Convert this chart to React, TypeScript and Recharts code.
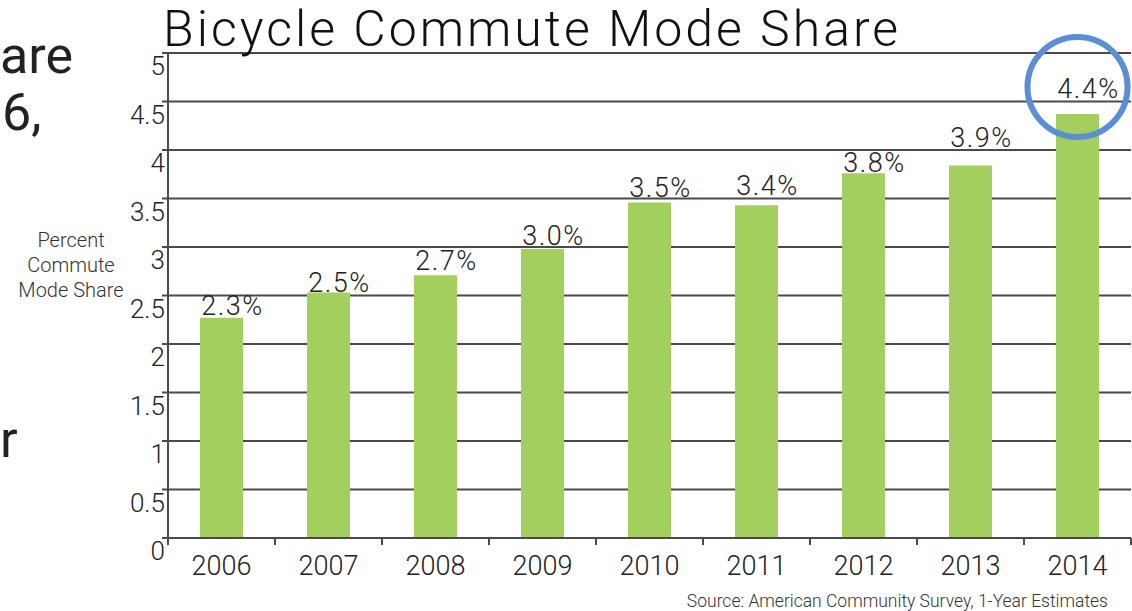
import { BarChart, Bar, XAxis, YAxis, CartesianGrid, LabelList, ReferenceDot } from 'recharts'

const YEARS = ['2006', '2007', '2008', '2009', '2010', '2011', '2012', '2013', '2014']
const SHARE = [2.27, 2.53, 2.71, 2.98, 3.46, 3.43, 3.76, 3.84, 4.37]
const SHARE_LABELS = ['2.3%', '2.5%', '2.7%', '3.0%', '3.5%', '3.4%', '3.8%', '3.9%', '4.4%']
const Y_TICKS = [0, 0.5, 1, 1.5, 2, 2.5, 3, 3.5, 4, 4.5, 5]
const HIGHLIGHT_YEAR = '2014'
const HIGHLIGHT_Y = 4.65

const FONT = 'Roboto, "Noto Sans", sans-serif'
const INK = '#222'
const LINE = '#4a4a4a'
const GREEN = '#a3cf5f'
// the labels in the original were placed by hand, a few px above each bar
const LABEL_LIFT = [3, 1, 5, 4, 5, 10, 1, 19, 16]

const data = YEARS.map((year, i) => ({ year, share: SHARE[i], label: SHARE_LABELS[i] }))

function YTick(props: any) {
  const { x, y, payload } = props
  return (
    <text x={x + 5} y={y + 22} textAnchor="end" fontSize={26} fontFamily={FONT} fontWeight={300} fill={INK}>
      {String(payload.value)}
    </text>
  )
}

function XTick(props: any) {
  const { x, y, payload, index } = props
  const half = payload.offset || 0
  return (
    <g>
      <line x1={x - half} x2={x - half} y1={y - 8} y2={y - 1} stroke={LINE} strokeWidth={2} />
      {index === YEARS.length - 1 && (
        <line x1={x + half} x2={x + half} y1={y - 8} y2={y - 1} stroke={LINE} strokeWidth={2} />
      )}
      <text x={x} y={y + 29} textAnchor="middle" fontSize={27} fontFamily={FONT} fontWeight={300} fill={INK}>
        {payload.value}
      </text>
    </g>
  )
}

function ValueLabel(props: any) {
  const { x, y, width, value, index } = props
  return (
    <text
      x={x + width / 2 + 11}
      y={y - (LABEL_LIFT[index] ?? 2)}
      textAnchor="middle"
      fontSize={27}
      fontFamily={FONT}
      fontWeight={300}
      letterSpacing={1.5}
      fill={INK}
    >
      {value}
    </text>
  )
}

export default function App() {
  return (
    <div style={{ position: 'absolute', left: 0, top: 0, width: 1132, height: 611, background: '#fff', overflow: 'hidden' }}>
      <BarChart width={1132} height={611} data={data} margin={{ top: 53, right: 1, bottom: 0, left: 108 }}>
        <CartesianGrid vertical={false} stroke={LINE} strokeWidth={2} />
        <XAxis
          dataKey="year"
          height={73}
          interval={0}
          tickLine={false}
          axisLine={{ stroke: LINE, strokeWidth: 2 }}
          tick={<XTick />}
        />
        <YAxis
          width={60}
          domain={[0, 5]}
          ticks={Y_TICKS}
          interval={0}
          tickSize={6}
          tickMargin={2}
          axisLine={{ stroke: LINE, strokeWidth: 2 }}
          tickLine={{ stroke: LINE, strokeWidth: 2 }}
          tick={<YTick />}
        />
        <Bar dataKey="share" fill={GREEN} barSize={43} isAnimationActive={false}>
          <LabelList dataKey="label" content={<ValueLabel />} />
        </Bar>
        <ReferenceDot
          x={HIGHLIGHT_YEAR}
          y={HIGHLIGHT_Y}
          r={50}
          fill="none"
          stroke="#5a8fd4"
          strokeWidth={6}
          ifOverflow="visible"
        />
      </BarChart>

      {/* title, axis caption, source and the clipped slide text */}
      <svg width={1132} height={611} style={{ position: 'absolute', left: 0, top: 0, pointerEvents: 'none' }}>
        <text x={163} y={46} fontSize={50} fontFamily={FONT} fontWeight={300} letterSpacing={3} fill="#111">
          Bicycle Commute Mode Share
        </text>
        <g fontSize={20} fontFamily={FONT} fontWeight={300} fill="#333" textAnchor="middle">
          <text x={71} y={247}>Percent</text>
          <text x={71} y={272}>Commute</text>
          <text x={71} y={297}>Mode Share</text>
        </g>
        <text x={1108} y={607} textAnchor="end" fontSize={17.5} fontFamily={FONT} fontWeight={300} fill="#333">
          Source: American Community Survey, 1-Year Estimates
        </text>
        <g fontSize={52} fontFamily={FONT} fill="#222">
          <text x={0} y={73}>are</text>
          <text x={2} y={130}>6,</text>
          <text x={0} y={457}>r</text>
        </g>
      </svg>
    </div>
  )
}
